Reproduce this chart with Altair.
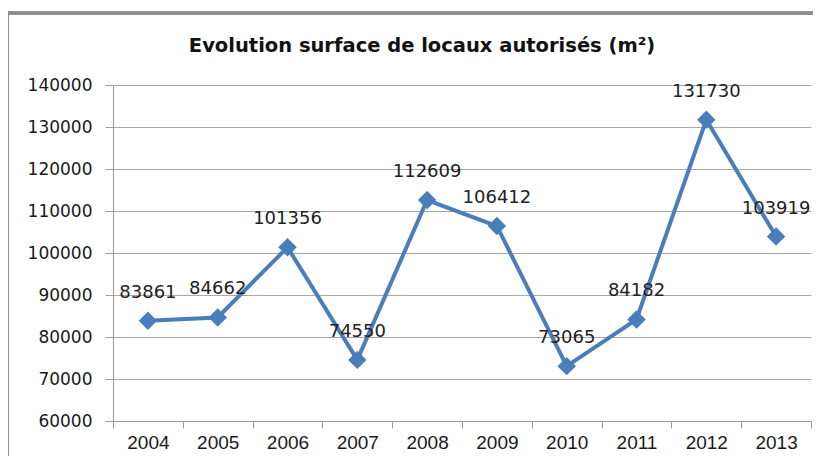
import altair as alt
import pandas as pd

years = ["2004", "2005", "2006", "2007", "2008", "2009", "2010", "2011", "2012", "2013"]
values = [83861, 84662, 101356, 74550, 112609, 106412, 73065, 84182, 131730, 103919]
title_text = ["Evolution surface de locaux autorisés (m²)"]

df = pd.DataFrame({"year": years, "value": values})

W, H = 698, 336
blue = "#4A7EBB"

x = alt.X("year:O", title=None, sort=years,
          scale=alt.Scale(paddingInner=0, paddingOuter=0),
          axis=alt.Axis(labelAngle=0, tickBand="extent", tickSize=7, domainColor="#9a9a9a",
                        tickColor="#9a9a9a", labelFont="Liberation Sans", labelFontSize=19,
                        labelColor="#1a1a1a", labelPadding=5, grid=False))
y = alt.Y("value:Q", title=None,
          scale=alt.Scale(domain=[60000, 140000], nice=False),
          axis=alt.Axis(values=list(range(60000, 140001, 10000)), format="d", tickSize=8,
                        domainColor="#9a9a9a", tickColor="#9a9a9a", gridColor="#a8a8a8",
                        labelFont="DejaVu Sans", labelFontSize=17, labelColor="#1a1a1a",
                        labelPadding=13))

base = alt.Chart(df).encode(x=x, y=y)

line = base.mark_line(color=blue, strokeWidth=4)
pts = base.mark_point(shape="diamond", filled=True, size=340, color=blue, opacity=1)
labels = base.mark_text(dy=-28, font="DejaVu Sans", fontSize=18, color="#222222").encode(
    text=alt.Text("value:Q", format="d"))

frame = alt.Chart(df).mark_rect(fill=None, stroke="#8c8c8c", strokeWidth=2.5).encode(
    x=alt.value(-106), x2=alt.value(W + 60), y=alt.value(-72), y2=alt.value(H + 80))

title = alt.Chart(pd.DataFrame({"t": title_text})).mark_text(
    font="DejaVu Sans", fontSize=19.5, fontWeight="bold", color="#111111", baseline="middle"
).encode(text="t:N", x=alt.value(309), y=alt.value(-39))

chart = alt.layer(frame, line, pts, labels, title).properties(
    width=W, height=H,
    autosize=alt.AutoSizeParams(type="none"),
    padding={"left": 105, "top": 77, "right": 2, "bottom": 35},
).configure_view(stroke=None)

chart.save("out.html", embed_options={"renderer": "svg", "actions": False})
